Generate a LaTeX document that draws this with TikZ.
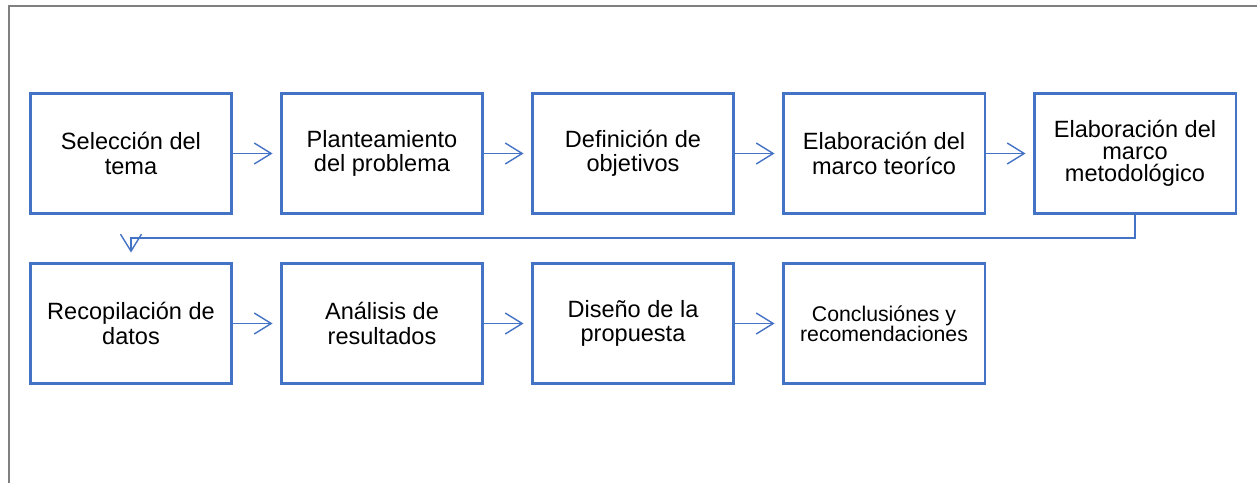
\documentclass[tikz,border=0pt]{standalone}
\usepackage{fontspec}
\setmainfont{Liberation Sans}
\usepackage{tikz}
\usetikzlibrary{arrows.meta, positioning}
\definecolor{stageblue}{HTML}{4472C4}
\definecolor{framegray}{HTML}{808080}
\tikzstyle{stage} = [draw=stageblue, line width=1.7pt, minimum width=4.04cm, minimum height=2.42cm,
                     align=center, inner sep=0pt, font=\fontsize{13.4}{13.8}\selectfont]
\tikzstyle{flow} = [draw=stageblue, line width=0.8pt, -{Straight Barb[length=0.34cm, width=0.42cm]}]

\begin{document}
\begin{tikzpicture}[x=0.02cm, y=-0.02cm]
				\useasboundingbox (0, 0) rectangle (1257, 483);
				\draw [framegray, line width=1.2pt] (9, 484) -- (9, 6) -- (1258, 6);

				% first row
				\node (Tema) [stage] at (131, 153.5) {Selección del\\tema};
				\node (Problema) [stage] at (382, 153.5) {Planteamiento\\del problema};
				\node (Objetivos) [stage] at (633, 153.5) {Definición de\\objetivos};
				\node (Teorico) [stage] at (884, 153.5) {Elaboración del\\marco teoríco};
				\node (Metodo) [stage, font=\fontsize{13.4}{12.6}\selectfont] at (1135, 153.5) {Elaboración del\\marco\\metodológico};

				\draw [flow, shorten >=0.14cm] (Tema) -- (Problema);
				\draw [flow, shorten >=0.14cm] (Problema) -- (Objetivos);
				\draw [flow, shorten >=0.14cm] (Objetivos) -- (Teorico);
				\draw [flow, shorten >=0.14cm] (Teorico) -- (Metodo);

				% second row
				\node (Datos) [stage] at (131, 323.5) {Recopilación de\\datos};
				\node (Resultados) [stage] at (382, 323.5) {Análisis de\\resultados};
				\node (Propuesta) [stage] at (633, 323.5) {Diseño de la\\propuesta};
				\node (Conclusion) [stage, font=\fontsize{12.1}{11.6}\selectfont] at (884, 323.5) {Conclusiónes y\\recomendaciones};

				% back to the start of the row
				\coordinate (Turn) at (1135, 238);
				\draw [flow, shorten >=0.18cm] (Metodo.south) -- (Turn) -| (Datos.north);

				\draw [flow, shorten >=0.14cm] (Datos) -- (Resultados);
				\draw [flow, shorten >=0.14cm] (Resultados) -- (Propuesta);
				\draw [flow, shorten >=0.14cm] (Propuesta) -- (Conclusion);
\end{tikzpicture}
\end{document}
